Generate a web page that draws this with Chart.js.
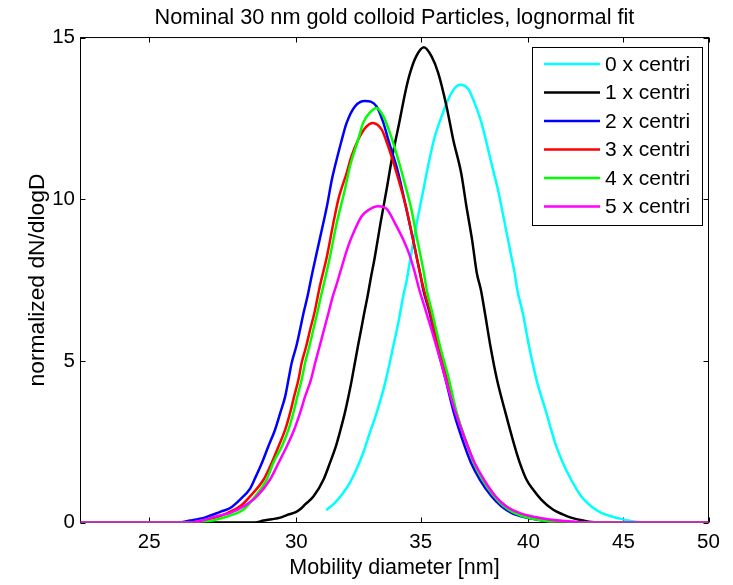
<!DOCTYPE html>
<html>
<head>
<meta charset="utf-8">
<script src="https://cdn.jsdelivr.net/npm/chart.js@4.4.0/dist/chart.umd.min.js"></script>
<style>
  html, body { margin: 0; padding: 0; background: #ffffff; }
  #wrap { width: 733px; height: 585px; }
</style>
</head>
<body>
<div id="wrap"><canvas id="c" width="733" height="585"></canvas></div>
<script>
// Size distributions after repeated centrifugation (dN/dlogD, normalized)
const seriesLabels = ['0 x centri', '1 x centri', '2 x centri', '3 x centri', '4 x centri', '5 x centri'];
const seriesColors = ['#00ffff', '#000000', '#0000ff', '#ff0000', '#00ff00', '#ff00ff'];
const xTicks = [25, 30, 35, 40, 45, 50];
const yTicks = [0, 5, 10, 15];

// 0 x centri
const d0 = [31.13, 31.47, 31.80, 32.06, 32.32, 32.59, 32.86, 33.14, 33.42, 33.62, 33.83, 34.04, 34.25, 34.40, 34.57, 34.83, 35.09, 35.26, 35.58, 35.92, 36.21, 36.51, 36.76, 37.13, 37.48, 37.74, 37.94, 38.13, 38.32, 38.52, 38.68, 38.84, 39.00, 39.16, 39.32, 39.45, 39.72, 40.03, 40.40, 40.64, 40.90, 41.14, 41.40, 41.74, 42.17, 42.70, 43.23, 43.78, 44.40, 44.80, 45.40, 46.00];
const n0 = [0.38, 0.61, 0.92, 1.23, 1.64, 2.15, 2.77, 3.39, 4.11, 4.73, 5.45, 6.17, 7.00, 7.50, 8.23, 9.26, 10.19, 10.81, 11.84, 12.56, 13.08, 13.44, 13.54, 13.40, 12.87, 12.36, 11.84, 11.32, 10.81, 10.29, 9.78, 9.26, 8.75, 8.23, 7.72, 7.20, 6.48, 5.45, 4.42, 3.90, 3.39, 2.87, 2.36, 1.85, 1.33, 0.81, 0.50, 0.30, 0.18, 0.12, 0.05, 0.00];

// 1 x centri
const d1 = [22.96, 28.50, 28.81, 29.10, 29.41, 29.65, 30.00, 30.20, 30.33, 30.65, 31.03, 31.28, 31.51, 31.69, 31.86, 31.99, 32.12, 32.25, 32.38, 32.51, 32.64, 32.77, 32.89, 33.07, 33.30, 33.55, 33.79, 34.08, 34.36, 34.54, 34.80, 35.14, 35.48, 35.77, 36.14, 36.44, 36.80, 37.04, 37.30, 37.52, 37.71, 37.90, 38.16, 38.47, 38.88, 39.32, 39.57, 39.90, 40.23, 40.64, 41.23, 41.74, 42.17, 42.80, 43.50, 50.00];
const n1 = [0, 0, 0.06, 0.10, 0.15, 0.23, 0.33, 0.45, 0.56, 0.81, 1.33, 1.85, 2.36, 2.87, 3.39, 3.85, 4.35, 4.90, 5.45, 5.97, 6.50, 7.00, 7.51, 8.23, 9.26, 10.29, 11.32, 12.36, 13.38, 13.90, 14.41, 14.70, 14.41, 13.90, 12.87, 11.84, 10.81, 9.78, 8.75, 7.72, 7.20, 6.48, 5.45, 4.42, 3.39, 2.36, 1.85, 1.33, 1.02, 0.71, 0.40, 0.25, 0.15, 0.06, 0, 0];

// 2 x centri
const d2 = [22.96, 25.90, 26.30, 26.80, 27.30, 27.64, 27.98, 28.33, 28.51, 28.75, 28.98, 29.22, 29.41, 29.59, 29.71, 29.83, 30.00, 30.14, 30.27, 30.42, 30.60, 30.88, 31.16, 31.35, 31.47, 31.74, 31.93, 32.26, 32.66, 33.14, 33.42, 33.62, 34.04, 34.36, 34.67, 34.97, 35.11, 35.40, 35.66, 36.10, 36.47, 36.96, 37.25, 37.66, 38.21, 38.68, 39.16, 39.90, 40.70, 41.50, 50.00];
const n2 = [0, 0, 0.06, 0.16, 0.33, 0.45, 0.71, 1.05, 1.38, 1.85, 2.36, 2.87, 3.39, 3.90, 4.42, 4.94, 5.45, 5.97, 6.48, 7.00, 7.72, 8.75, 9.78, 10.60, 11.01, 11.84, 12.36, 12.87, 13.04, 12.87, 12.36, 11.84, 10.81, 9.78, 8.75, 7.72, 7.20, 6.45, 5.60, 4.42, 3.39, 2.36, 1.85, 1.33, 0.81, 0.50, 0.30, 0.15, 0.06, 0, 0];

// 3 x centri
const d3 = [22.96, 26.30, 26.70, 27.00, 27.30, 27.56, 27.98, 28.33, 28.81, 29.10, 29.35, 29.59, 29.77, 29.92, 30.08, 30.20, 30.37, 30.52, 30.68, 30.81, 30.90, 31.16, 31.41, 31.60, 31.93, 32.12, 32.39, 32.73, 32.98, 33.35, 33.52, 33.76, 33.97, 34.36, 34.67, 34.97, 35.14, 35.45, 35.75, 36.20, 36.58, 37.10, 37.38, 37.80, 38.38, 38.90, 39.40, 40.10, 40.80, 41.50, 50.00];
const n3 = [0, 0, 0.05, 0.12, 0.20, 0.30, 0.50, 0.81, 1.33, 1.85, 2.36, 2.87, 3.39, 3.90, 4.42, 4.94, 5.45, 5.97, 6.48, 7.00, 7.35, 8.23, 9.26, 9.98, 10.81, 11.32, 11.84, 12.25, 12.36, 12.15, 11.84, 11.32, 10.81, 9.78, 8.75, 7.72, 7.20, 6.40, 5.50, 4.42, 3.39, 2.36, 1.85, 1.33, 0.81, 0.50, 0.30, 0.15, 0.06, 0, 0];

// 4 x centri
const d4 = [22.96, 26.50, 26.90, 27.30, 27.75, 28.10, 28.51, 28.92, 29.16, 29.47, 29.71, 29.89, 30.04, 30.20, 30.33, 30.49, 30.64, 30.79, 30.93, 31.02, 31.28, 31.54, 31.86, 32.06, 32.39, 32.59, 32.84, 33.14, 33.42, 33.69, 34.00, 34.39, 34.57, 34.85, 35.14, 35.26, 35.50, 35.85, 36.25, 36.60, 37.10, 37.38, 37.78, 38.33, 38.80, 39.30, 39.95, 40.80, 41.30, 50.00];
const n4 = [0, 0, 0.04, 0.12, 0.25, 0.40, 0.81, 1.33, 1.85, 2.36, 2.87, 3.39, 3.90, 4.42, 4.94, 5.45, 5.97, 6.48, 7.00, 7.30, 8.23, 9.26, 10.29, 11.01, 11.84, 12.36, 12.66, 12.82, 12.56, 12.05, 11.32, 10.29, 9.78, 8.75, 7.72, 7.20, 6.50, 5.45, 4.42, 3.39, 2.36, 1.85, 1.33, 0.81, 0.50, 0.30, 0.15, 0.05, 0, 0];

// 5 x centri
const d5 = [22.96, 26.30, 26.70, 27.00, 27.30, 27.64, 28.10, 28.57, 29.04, 29.35, 29.65, 29.92, 30.14, 30.33, 30.55, 30.71, 30.88, 31.05, 31.22, 31.39, 31.55, 31.67, 31.99, 32.26, 32.53, 32.84, 33.20, 33.58, 33.90, 34.25, 34.54, 34.75, 34.94, 35.20, 35.50, 35.90, 36.10, 36.55, 37.10, 37.42, 37.85, 38.40, 38.90, 39.55, 40.50, 41.30, 42.30, 43.00, 50.00];
const n5 = [0, 0, 0.06, 0.15, 0.22, 0.30, 0.50, 0.81, 1.33, 1.85, 2.36, 2.87, 3.39, 3.90, 4.42, 4.94, 5.45, 5.97, 6.48, 7.00, 7.40, 7.72, 8.54, 9.06, 9.47, 9.68, 9.78, 9.68, 9.26, 8.75, 8.23, 7.72, 7.20, 6.60, 5.90, 4.94, 4.42, 3.39, 2.36, 1.85, 1.33, 0.81, 0.50, 0.30, 0.15, 0.08, 0.03, 0, 0];

const diameters = [d0, d1, d2, d3, d4, d5];
const values = [n0, n1, n2, n3, n4, n5];

const FONT = '"Liberation Sans", Arial, Helvetica, sans-serif';

const toPoints = (d, n) => d.map((v, i) => ({ x: v, y: n[i] }));

const datasets = seriesLabels.map((label, i) => ({
  label,
  data: toPoints(diameters[i], values[i]),
  borderColor: seriesColors[i],
  backgroundColor: seriesColors[i],
  borderWidth: 2.5,
  pointRadius: 0,
  fill: false,
  cubicInterpolationMode: 'monotone',
  order: seriesLabels.length - 1 - i   // later series painted on top
}));

// Axes box with inward tick marks on all four sides
const boxFrame = {
  id: 'boxFrame',
  beforeDatasetsDraw(chart) {
    const { ctx, chartArea: a, scales: { x, y } } = chart;
    const L = 5;
    ctx.save();
    ctx.strokeStyle = '#000000';
    ctx.lineWidth = 1;
    ctx.strokeRect(a.left, a.top, a.right - a.left, a.bottom - a.top);
    ctx.beginPath();
    xTicks.forEach(v => {
      const p = Math.round(x.getPixelForValue(v)) + 0.5;
      ctx.moveTo(p, a.bottom); ctx.lineTo(p, a.bottom - L);
      ctx.moveTo(p, a.top); ctx.lineTo(p, a.top + L);
    });
    yTicks.forEach(v => {
      const p = Math.round(y.getPixelForValue(v)) + 0.5;
      ctx.moveTo(a.left, p); ctx.lineTo(a.left + L, p);
      ctx.moveTo(a.right, p); ctx.lineTo(a.right - L, p);
    });
    ctx.stroke();
    ctx.restore();
  }
};

// Boxed legend in the upper right of the plot
const boxLegend = {
  id: 'boxLegend',
  afterDraw(chart) {
    const { ctx } = chart;
    const bx = 532.5, by = 47.5, bw = 170, bh = 178;
    const rowTop = 64, rowGap = 28.5;
    ctx.save();
    ctx.fillStyle = '#ffffff';
    ctx.fillRect(bx, by, bw, bh);
    ctx.strokeStyle = '#000000';
    ctx.lineWidth = 1;
    ctx.strokeRect(bx, by, bw, bh);
    ctx.font = '21px ' + FONT;
    ctx.textBaseline = 'middle';
    ctx.textAlign = 'left';
    chart.data.datasets.forEach((ds, i) => {
      const yy = rowTop + i * rowGap;
      ctx.strokeStyle = ds.borderColor;
      ctx.lineWidth = 2.5;
      ctx.beginPath();
      ctx.moveTo(544, yy); ctx.lineTo(600, yy);
      ctx.stroke();
      ctx.fillStyle = '#000000';
      ctx.fillText(ds.label, 605, yy + 1);
    });
    ctx.restore();
  }
};

new Chart(document.getElementById('c'), {
  type: 'line',
  data: { datasets },
  plugins: [boxFrame, boxLegend],
  options: {
    responsive: false,
    animation: false,
    devicePixelRatio: 1,
    layout: { padding: { left: 0, right: 24.5, top: 0, bottom: 0 } },
    plugins: {
      legend: { display: false },
      tooltip: { enabled: false },
      title: {
        display: true,
        fullSize: false,
        text: 'Nominal 30 nm gold colloid Particles, lognormal fit',
        color: '#000000',
        font: { family: FONT, size: 21.7, weight: 'normal', lineHeight: 1.2 },
        padding: { top: 5.5, bottom: 6 }
      }
    },
    scales: {
      x: {
        type: 'logarithmic',
        min: 22.96,
        max: 50,
        afterBuildTicks: s => { s.ticks = xTicks.map(v => ({ value: v })); },
        afterFit: s => { s.height = 62.5; s.paddingLeft = 0; s.paddingRight = 0; },
        grid: { display: false, drawTicks: false },
        border: { display: false },
        ticks: {
          color: '#000000',
          font: { family: FONT, size: 20.5 },
          padding: 7.5,
          maxRotation: 0,
          autoSkip: false,
          callback: v => String(v)
        },
        title: {
          display: true,
          text: 'Mobility diameter [nm]',
          color: '#000000',
          font: { family: FONT, size: 21.5, lineHeight: 1.2 },
          padding: { top: 0, bottom: 4 }
        }
      },
      y: {
        min: 0,
        max: 15,
        afterBuildTicks: s => { s.ticks = yTicks.map(v => ({ value: v })); },
        afterFit: s => { s.width = 80.5; s.paddingTop = 0; s.paddingBottom = 0; },
        grid: { display: false, drawTicks: false },
        border: { display: false },
        ticks: {
          color: '#000000',
          font: { family: FONT, size: 20.5 },
          padding: 5.5,
          callback: v => String(v)
        },
        title: {
          display: true,
          text: 'normalized dN/dlogD',
          color: '#000000',
          font: { family: FONT, size: 22.8, lineHeight: 1.2 },
          padding: { top: 24.5, bottom: 0 }
        }
      }
    }
  }
});
</script>
</body>
</html>
